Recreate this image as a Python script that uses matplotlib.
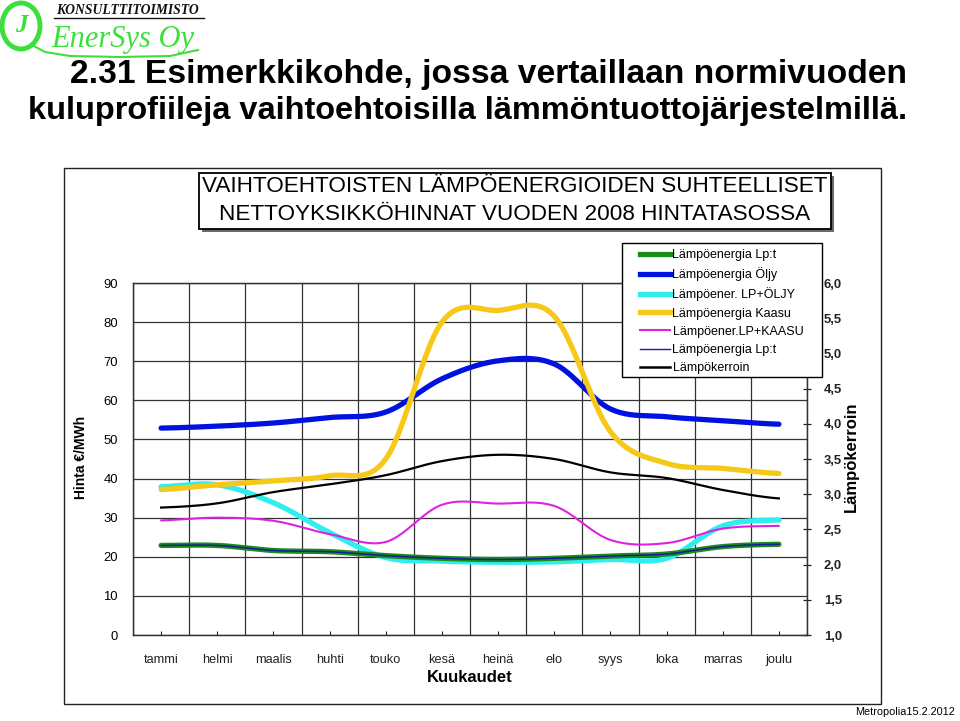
import numpy as np
import matplotlib
matplotlib.use('Agg')
import matplotlib.pyplot as plt
from matplotlib import font_manager as fm
from matplotlib.patches import Rectangle, Ellipse
from matplotlib.lines import Line2D
from matplotlib.ticker import FuncFormatter

# ---------------- data ----------------
months = ['tammi', 'helmi', 'maalis', 'huhti', 'touko', 'kesä', 'heinä',
          'elo', 'syys', 'loka', 'marras', 'joulu']
lp = [22.9, 22.9, 21.6, 21.3, 20.3, 19.6, 19.3, 19.6, 20.2, 20.7, 22.6, 23.2]
oljy = [52.9, 53.4, 54.2, 55.6, 57.0, 65.5, 70.1, 69.3, 57.8, 55.8, 54.8, 53.9]
lp_oljy = [37.9, 38.4, 33.8, 26.2, 19.8, 18.9, 18.6, 18.7, 19.3, 19.6, 27.9, 29.4]
kaasu = [37.2, 38.4, 39.4, 40.7, 45.0, 80.0, 83.0, 81.5, 52.0, 43.9, 42.6, 41.3]
lp_kaasu = [29.3, 30.0, 29.2, 25.8, 23.8, 33.3, 33.6, 33.0, 24.3, 23.5, 27.2, 27.9]
lampokerroin = [2.81, 2.87, 3.03, 3.14, 3.27, 3.47, 3.56, 3.50, 3.31, 3.23, 3.06, 2.94]

left_ticks = [0, 10, 20, 30, 40, 50, 60, 70, 80, 90]
right_ticks = [1.0, 1.5, 2.0, 2.5, 3.0, 3.5, 4.0, 4.5, 5.0, 5.5, 6.0]

names = {f.name for f in fm.fontManager.ttflist}
HAS_NARROW = 'Liberation Sans Narrow' in names
NARROW = 'Liberation Sans Narrow' if HAS_NARROW else 'Liberation Sans'
plt.rcParams['font.family'] = ['Liberation Sans', 'DejaVu Sans']

W, H = 960, 721
fig = plt.figure(figsize=(W / 100, H / 100), dpi=100)


def fx(p):
    return p / W


def fy(p):
    return 1 - p / H


def smooth(vals, n=24):
    """Excel-style smoothed line (Catmull-Rom through the data points)."""
    v = np.asarray(vals, float)
    p = np.concatenate([[v[0]], v, [v[-1]]])
    t = np.linspace(0, 1, n, endpoint=False)
    h00 = 2 * t**3 - 3 * t**2 + 1
    h10 = t**3 - 2 * t**2 + t
    h01 = -2 * t**3 + 3 * t**2
    h11 = t**3 - t**2
    xs, ys = [], []
    for i in range(len(v) - 1):
        p0, p1, p2, p3 = p[i], p[i + 1], p[i + 2], p[i + 3]
        m1 = (p2 - p0) / 2
        m2 = (p3 - p1) / 2
        xs.append(i + t)
        ys.append(h00 * p1 + h10 * m1 + h01 * p2 + h11 * m2)
    xs.append([len(v) - 1])
    ys.append([v[-1]])
    return np.concatenate(xs), np.concatenate(ys)


# ---------------- decorations ----------------
# outer frame
fig.add_artist(Rectangle((fx(64), fy(704)), 817 / W, 536 / H, transform=fig.transFigure,
                         fill=False, ec='#222222', lw=1.0, zorder=0))
# chart title box with shadow
fig.add_artist(Rectangle((fx(202), fy(232)), 632 / W, 56 / H, transform=fig.transFigure,
                         fc='#6a6a6a', ec='none', zorder=1))
fig.add_artist(Rectangle((fx(199), fy(229)), 632 / W, 56 / H, transform=fig.transFigure,
                         fc='white', ec='black', lw=1.3, zorder=2))
box_size = 17.5 if HAS_NARROW else 16.2
fig.text(fx(515), fy(187), 'VAIHTOEHTOISTEN LÄMPÖENERGIOIDEN SUHTEELLISET',
         family=[NARROW, 'DejaVu Sans'], size=box_size, ha='center', va='center', zorder=3)
fig.text(fx(515), fy(214), 'NETTOYKSIKKÖHINNAT VUODEN 2008 HINTATASOSSA',
         family=[NARROW, 'DejaVu Sans'], size=box_size, ha='center', va='center', zorder=3)

# slide title
fig.text(fx(489), fy(75), '2.31 Esimerkkikohde, jossa vertaillaan normivuoden',
         size=24.2, weight='bold', ha='center', va='center')
fig.text(fx(468), fy(111), 'kuluprofiileja vaihtoehtoisilla lämmöntuottojärjestelmillä.',
         size=23.4, weight='bold', ha='center', va='center')

# logo
green_logo = '#3ddf3d'
fig.add_artist(Ellipse((fx(21), fy(26)), 38 / W, 46 / H, transform=fig.transFigure,
                       fill=False, ec=green_logo, lw=3.5))
fig.text(fx(21), fy(26), 'J', family='Liberation Serif', style='italic', weight='bold',
         color=green_logo, size=18, ha='center', va='center')
fig.add_artist(Line2D([fx(32), fx(45), fx(70), fx(120), fx(170), fx(198)],
                      [fy(45), fy(52), fy(56), fy(57), fy(56), fy(50)],
                      transform=fig.transFigure, color=green_logo, lw=1.5))
fig.text(fx(56), fy(11), 'KONSULTTITOIMISTO', family='Liberation Serif', style='italic',
         weight='bold', size=9.8, ha='left', va='center', color='#111111')
fig.add_artist(Line2D([fx(54), fx(204)], [fy(18), fy(18)], transform=fig.transFigure,
                      color='#111111', lw=1.0))
fig.text(fx(51), fy(39), 'EnerSys Oy', family='Liberation Serif', style='italic',
         size=22, ha='left', va='center', color=green_logo)

fig.text(fx(955), fy(712), 'Metropolia15.2.2012', size=7.8, ha='right', va='center')

# ---------------- axes ----------------
ax = fig.add_axes([fx(133), fy(635), (807 - 133) / W, (635 - 283) / H])
ax.set_xlim(-0.5, len(months) - 0.5)
ax.set_ylim(left_ticks[0], left_ticks[-1])
ax.set_yticks(left_ticks)
ax.set_xticks(np.arange(-0.5, len(months), 1.0))
ax.set_xticks(np.arange(len(months)), minor=True)
ax.set_xticklabels([], minor=False)
ax.set_xticklabels(months, minor=True)
ax.tick_params(axis='x', which='major', length=0, labelbottom=False)
ax.tick_params(axis='x', which='minor', direction='in', length=3, width=0.8,
               pad=14, labelsize=9.2, colors='#222222')
ax.tick_params(axis='y', length=0, pad=11, labelsize=9.4)
ax.grid(True, which='major', color='#333333', lw=0.9)
for s in ax.spines.values():
    s.set_color('#333333')
    s.set_linewidth(1.0)

series = [
    (lp, 'Lämpöenergia Lp:t', '#188c18', 3.8, 5),
    (oljy, 'Lämpöenergia Öljy', '#0012e0', 3.8, 2),
    (lp_oljy, 'Lämpöener. LP+ÖLJY', '#30eeee', 3.8, 3),
    (kaasu, 'Lämpöenergia Kaasu', '#f6c818', 3.8, 4),
    (lp_kaasu, 'Lämpöener.LP+KAASU', '#de22de', 1.5, 4.5),
    (lp, 'Lämpöenergia Lp:t', '#1a1aa0', 1.1, 6),
]
handles = []
for vals, lab, col, lw, z in series:
    xs, ys = smooth(vals)
    ax.plot(xs, ys, color=col, lw=lw, zorder=z, solid_capstyle='round')
    handles.append(Line2D([], [], color=col, lw=(3.8 if lw > 3 else (1.5 if lw > 1.3 else 1.0))))

ax2 = ax.twinx()
ax2.set_ylim(right_ticks[0], right_ticks[-1])
ax2.set_yticks(right_ticks)
ax2.yaxis.set_major_formatter(FuncFormatter(lambda v, p: f'{v:.1f}'.replace('.', ',')))
ax2.tick_params(axis='y', direction='inout', length=6, width=0.9, pad=9, labelsize=9.4,
                colors='#222222')
for t in ax2.get_yticklabels():
    t.set_fontweight('bold')
for s in ax2.spines.values():
    s.set_color('#333333')
xs, ys = smooth(lampokerroin)
ax2.plot(xs, ys, color='black', lw=1.6, zorder=7)
handles.append(Line2D([], [], color='black', lw=1.8))
labels = [s[1] for s in series] + ['Lämpökerroin']

# axis labels
fig.text(fx(81), fy(457), 'Hinta €/MWh', rotation=90, ha='center', va='center',
         weight='bold', size=10)
fig.text(fx(851), fy(457), 'Lämpökerroin', rotation=90, ha='center', va='center',
         weight='bold', size=12)
fig.text(fx(470), fy(678), 'Kuukaudet', ha='center', va='center', weight='bold', size=12)

# legend
fig.add_artist(Rectangle((fx(622), fy(377)), 200 / W, 134 / H, transform=fig.transFigure,
                         fc='white', ec='black', lw=1.0, zorder=8))
leg = fig.legend(handles, labels, loc='upper left', bbox_to_anchor=(fx(640), fy(249)),
                 frameon=False, borderpad=0, borderaxespad=0, handlelength=2.4,
                 handletextpad=0.2, labelspacing=0.5, fontsize=9)
leg.set_zorder(9)

fig.savefig('out.png', dpi=100)
